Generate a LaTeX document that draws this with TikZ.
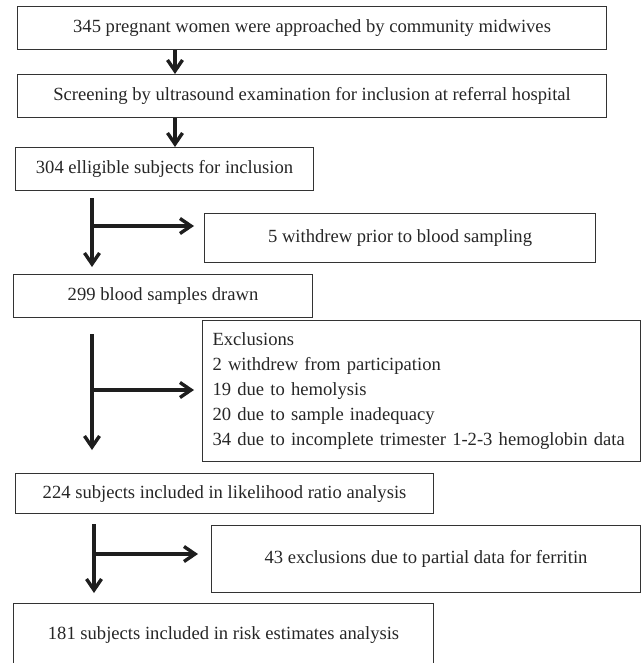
\documentclass[tikz,border=0pt]{standalone}
\usepackage{fontspec}
\setmainfont{Liberation Serif}
\usetikzlibrary{arrows.meta,positioning,calc}
\definecolor{boxline}{HTML}{333333}
\definecolor{arrline}{HTML}{1E1E1E}
\begin{document}
\begin{tikzpicture}[x=1pt,y=-1pt,
  box/.style={draw=boxline,line width=1.1pt,inner sep=0pt,anchor=north west,
    font=\fontsize{18.6}{25}\selectfont,text=black!85},
  arr/.style={draw=arrline,line width=3.6pt,
    -{Straight Barb[length=11pt,width=15pt,line width=3.4pt]}}]
\useasboundingbox (0,0) rectangle (641,663);
% boxes: position at top-left corner, sized by minimum width/height
\node[box,minimum width=589pt,minimum height=43pt] (n1) at (17,6) {345 pregnant women were approached by community midwives};
\node[box,minimum width=589pt,minimum height=43pt] (n2) at (17,74) {Screening by ultrasound examination for inclusion at referral hospital};
\node[box,minimum width=298pt,minimum height=43pt] (n3) at (15,147) {304 elligible subjects for inclusion};
\node[box,minimum width=391pt,minimum height=49pt] (n4) at (204,213) {5 withdrew prior to blood sampling};
\node[box,minimum width=299pt,minimum height=43pt] (n5) at (13,274) {299 blood samples drawn};
\node[box,minimum width=438pt,minimum height=141pt,align=left,text width=418pt,inner xsep=10pt] (n6) at (202,320) {Exclusions\\2 withdrew from participation\\19 due to hemolysis\\20 due to sample inadequacy\\34 due to incomplete trimester 1-2-3 hemoglobin data};
\node[box,minimum width=418pt,minimum height=40pt] (n7) at (15,473) {224 subjects included in likelihood ratio analysis};
\node[box,minimum width=429pt,minimum height=67pt] (n8) at (211,525) {43 exclusions due to partial data for ferritin};
\node[box,minimum width=420pt,minimum height=62pt] (n9) at (13,603) {181 subjects included in risk estimates analysis};
% columns and branch points
\coordinate (c1) at (175,0);
\coordinate (b1) at (92,226);
\coordinate (b2) at (92,390);
\coordinate (b3) at (94,554);
% straight arrows
\draw[arr] (n1.south -| c1) -- (n2.north -| c1);
\draw[arr] (n2.south -| c1) -- (n3.north -| c1);
% branch 1
\draw[arr,shorten <=7pt,shorten >=7pt] (n3.south -| b1) -- (n5.north -| b1);
\draw[arr,shorten >=10pt] (b1) -- (b1 -| n4.west);
% branch 2
\draw[arr,shorten <=16pt,shorten >=23pt] (n5.south -| b2) -- (n7.north -| b2);
\draw[arr,shorten >=8pt] (b2) -- (b2 -| n6.west);
% branch 3
\draw[arr,shorten <=10pt,shorten >=10pt] (n7.south -| b3) -- (n9.north -| b3);
\draw[arr,shorten >=13pt] (b3) -- (b3 -| n8.west);
\end{tikzpicture}
\end{document}
